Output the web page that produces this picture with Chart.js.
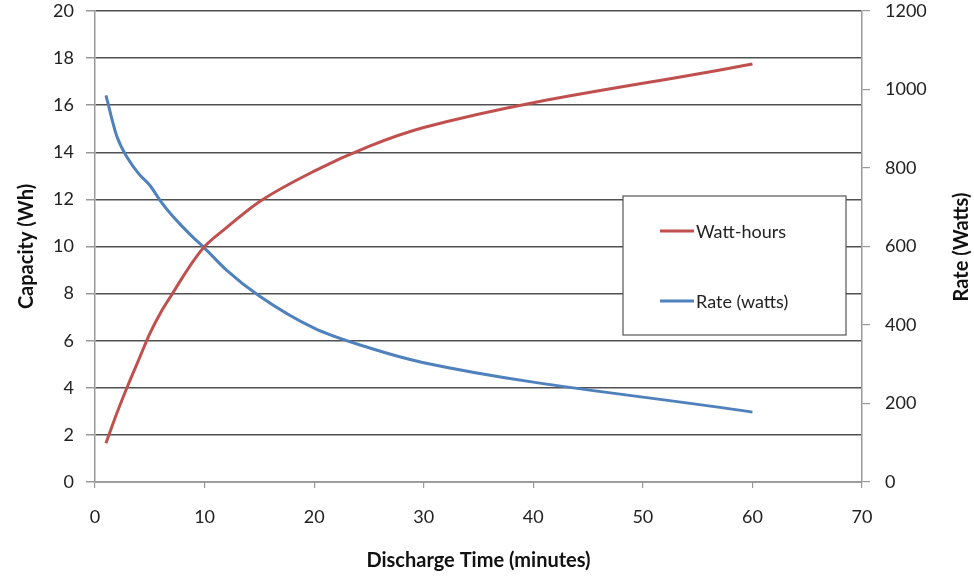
<!DOCTYPE html>
<html>
<head>
<meta charset="utf-8">
<script src="https://cdn.jsdelivr.net/npm/chart.js@4/dist/chart.umd.min.js"></script>
<style>
  body { margin: 0; background: #fff; }
  #wrap { width: 974px; height: 578px; }
</style>
</head>
<body>
<div id="wrap"><canvas id="lineChart" width="974" height="578"></canvas></div>
<script>
// discharge data
var minutes = [1, 2, 3, 4, 5, 6, 7, 8, 9, 10, 12, 15, 20, 25, 30, 60];
var wattHours = [1.65, 2.93, 4.1, 5.2, 6.3, 7.2, 7.95, 8.7, 9.4, 10.0, 10.8, 11.9, 13.2, 14.25, 15.05, 17.75];
var rateWatts = [985, 880, 824, 785, 756, 715, 680, 650, 622, 596, 540, 474, 392, 342, 304, 178];
var xTicks = [0, 10, 20, 30, 40, 50, 60, 70];
var capTicks = [0, 2, 4, 6, 8, 10, 12, 14, 16, 18, 20];
var rateTicks = [0, 200, 400, 600, 800, 1000, 1200];

var FONT = 'Lato, "Open Sans", sans-serif';

function pts(ys) {
    return minutes.map(function (m, i) { return { x: m, y: ys[i] }; });
}
function plain(v) { return String(v); }
function fitY(w) {
    return function (s) {
        s.width = w;
        s.paddingTop = 0;
        s.paddingBottom = 0;
    };
}

// legend box sits inside the plot, like the excel one
var boxLegend = {
    id: 'boxLegend',
    afterDraw: function (chart) {
        var ctx = chart.ctx;
        ctx.save();
        ctx.fillStyle = '#fff';
        ctx.fillRect(623, 196, 223, 139);
        ctx.strokeStyle = '#555';
        ctx.lineWidth = 1.2;
        ctx.strokeRect(623, 196, 223, 139);
        ctx.font = '18px ' + FONT;
        ctx.textBaseline = 'middle';
        var rows = [231, 301];
        chart.data.datasets.forEach(function (ds, i) {
            ctx.strokeStyle = ds.borderColor;
            ctx.lineWidth = 3;
            ctx.beginPath();
            ctx.moveTo(660, rows[i]);
            ctx.lineTo(694, rows[i]);
            ctx.stroke();
            ctx.fillStyle = '#222';
            ctx.fillText(ds.label, 696, rows[i] + 1);
        });
        // right axis title reads bottom to top
        ctx.translate(962, 247);
        ctx.rotate(-Math.PI / 2);
        ctx.font = 'bold 20px ' + FONT;
        ctx.textAlign = 'center';
        ctx.fillStyle = '#111';
        ctx.fillText('Rate (Watts)', 0, 0);
        ctx.restore();
    }
};

var ctxL = document.getElementById('lineChart').getContext('2d');
var myLineChart = new Chart(ctxL, {
    type: 'line',
    data: {
        datasets: [{
            label: 'Watt-hours',
            data: pts(wattHours),
            yAxisID: 'yCap',
            borderColor: '#C0504D',
            borderWidth: 3,
            pointRadius: 0,
            cubicInterpolationMode: 'monotone',
            fill: false
        }, {
            label: 'Rate (watts)',
            data: pts(rateWatts),
            yAxisID: 'yRate',
            borderColor: '#4F81BD',
            borderWidth: 3,
            pointRadius: 0,
            cubicInterpolationMode: 'monotone',
            fill: false
        }]
    },
    options: {
        responsive: false,
        animation: false,
        devicePixelRatio: 1,
        layout: { padding: { top: 11, left: 0, right: 0, bottom: 0 } },
        plugins: {
            legend: { display: false },
            tooltip: { enabled: false }
        },
        scales: {
            x: {
                type: 'linear',
                min: 0,
                max: 70,
                afterBuildTicks: function (s) { s.ticks = xTicks.map(function (v) { return { value: v }; }); },
                afterFit: function (s) { s.height = 96; s.paddingLeft = 0; s.paddingRight = 0; },
                grid: { drawOnChartArea: false, tickLength: 6, tickColor: '#999', lineWidth: 1.2 },
                border: { color: '#999', width: 1.5 },
                ticks: { font: { family: FONT, size: 18 }, color: '#222', padding: 18, maxRotation: 0, callback: plain },
                title: {
                    display: true,
                    text: 'Discharge Time (minutes)',
                    font: { family: FONT, size: 20, weight: 'bold' },
                    color: '#111',
                    padding: { top: 0, bottom: 5 }
                }
            },
            yCap: {
                position: 'left',
                min: 0,
                max: 20,
                afterBuildTicks: function (s) { s.ticks = capTicks.map(function (v) { return { value: v }; }); },
                afterFit: fitY(95),
                grid: { color: '#505050', lineWidth: 1.5, tickLength: 9, tickColor: '#999' },
                border: { color: '#999', width: 1.5 },
                ticks: { font: { family: FONT, size: 18 }, color: '#222', padding: 12, callback: plain },
                title: {
                    display: true,
                    text: 'Capacity (Wh)',
                    font: { family: FONT, size: 20, weight: 'bold' },
                    color: '#111',
                    padding: { top: 15, bottom: 0 }
                }
            },
            yRate: {
                position: 'right',
                min: 0,
                max: 1200,
                afterBuildTicks: function (s) { s.ticks = rateTicks.map(function (v) { return { value: v }; }); },
                afterFit: fitY(112),
                grid: { drawOnChartArea: false, tickLength: 8, tickColor: '#999', lineWidth: 1.2 },
                border: { color: '#999', width: 1.5 },
                ticks: { font: { family: FONT, size: 18 }, color: '#222', padding: 15, callback: plain }
            }
        }
    },
    plugins: [boxLegend]
});
</script>
</body>
</html>
